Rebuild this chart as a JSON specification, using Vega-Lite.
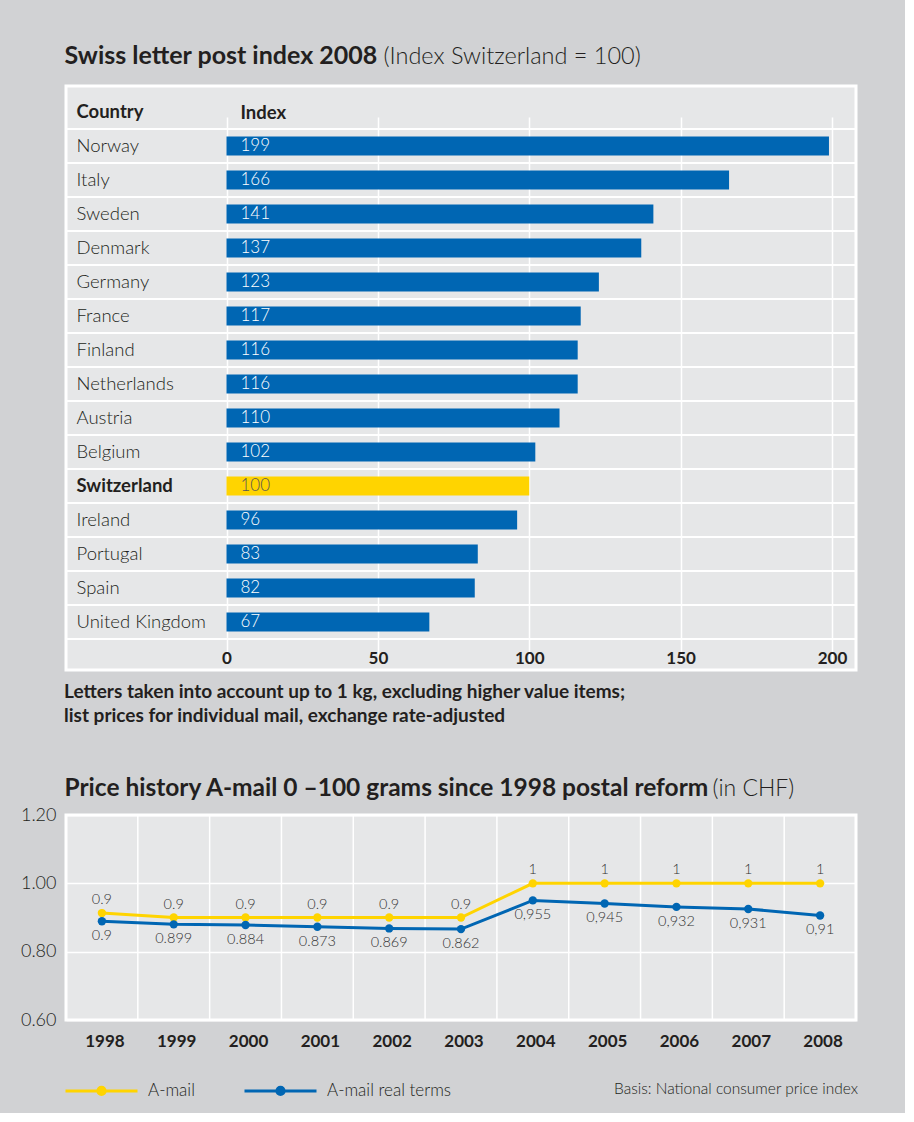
{
  "$schema": "https://vega.github.io/schema/vega-lite/v6.json",
  "background": "#d1d2d4",
  "padding": {"left": 18, "top": 41, "right": 46, "bottom": 12},
  "spacing": 45,
  "config": {
    "font": "Lato",
    "view": {"fill": "#e6e7e8", "stroke": "#ffffff", "strokeWidth": 3},
    "axis": {"domain": false, "ticks": false}
  },
  "vconcat": [
    {
      "width": 790,
      "height": 584,
      "title": {
        "text": ["Letters taken into account up to 1 kg, excluding higher value items;", "list prices for individual mail, exchange rate-adjusted"],
        "orient": "bottom", "anchor": "start", "frame": "group",
        "font": "Lato", "fontSize": 19, "fontWeight": "bold", "color": "#231f20",
        "lineHeight": 24, "offset": 13, "dx": -2
      },
      "data": {"values": [
        {"Country": "Norway", "Index": 199},
        {"Country": "Italy", "Index": 166},
        {"Country": "Sweden", "Index": 141},
        {"Country": "Denmark", "Index": 137},
        {"Country": "Germany", "Index": 123},
        {"Country": "France", "Index": 117},
        {"Country": "Finland", "Index": 116},
        {"Country": "Netherlands", "Index": 116},
        {"Country": "Austria", "Index": 110},
        {"Country": "Belgium", "Index": 102},
        {"Country": "Switzerland", "Index": 100},
        {"Country": "Ireland", "Index": 96},
        {"Country": "Portugal", "Index": 83},
        {"Country": "Spain", "Index": 82},
        {"Country": "United Kingdom", "Index": 67}
      ]},
      "layer": [
        {
          "mark": {"type": "bar", "size": 19},
          "encoding": {
            "x": {
              "field": "Index", "type": "quantitative",
              "scale": {"domain": [0, 200], "range": [160.5, 766], "nice": false},
              "axis": {
                "values": [0, 50, 100, 150, 200],
                "grid": true, "gridColor": "#ffffff", "gridWidth": 1.5,
                "labelPadding": -12, "labelBaseline": "middle",
                "labelFont": "Lato", "labelFontSize": 17, "labelFontWeight": "bold", "labelColor": "#231f20",
                "labelFlush": false, "labelOverlap": false,
                "title": "Swiss letter post index 2008",
                "titleX": -2, "titleY": -607, "titleAlign": "left", "titleAnchor": null, "titleBaseline": "alphabetic",
                "titleFont": "Lato", "titleFontSize": 25, "titleFontWeight": "bold", "titleColor": "#231f20"
              }
            },
            "y": {
              "field": "Country", "type": "nominal",
              "scale": {"domain": ["Country", "Norway", "Italy", "Sweden", "Denmark", "Germany", "France", "Finland", "Netherlands", "Austria", "Belgium", "Switzerland", "Ireland", "Portugal", "Spain", "United Kingdom"], "range": [9, 553], "paddingInner": 0, "paddingOuter": 0},
              "axis": {
                "grid": false,
                "labelAlign": "left", "labelPadding": -10, "labelBaseline": "middle",
                "labelFont": "Lato", "labelFontSize": 18.5, "labelColor": "#231f20", "labelLimit": 300,
                "labelFontWeight": {"condition": {"test": "datum.value === 'Country' || datum.value === 'Switzerland'", "value": "bold"}, "value": 300},
                "title": "(Index Switzerland = 100)",
                "titleAngle": 0, "titleX": 317, "titleY": -23, "titleAlign": "left", "titleAnchor": null, "titleBaseline": "alphabetic",
                "titleFont": "Lato", "titleFontSize": 23.5, "titleFontWeight": 300, "titleColor": "#231f20"
              }
            },
            "color": {"condition": {"test": "datum.Country === 'Switzerland'", "value": "#ffd400"}, "value": "#0066b3"}
          }
        },
        {
          "mark": {"type": "rule", "color": "#ffffff", "strokeWidth": 2},
          "encoding": {"y": {"field": "Country", "type": "nominal", "bandPosition": 0}}
        },
        {
          "mark": {"type": "rule", "color": "#ffffff", "strokeWidth": 2},
          "encoding": {"y": {"field": "Country", "type": "nominal", "bandPosition": 1}}
        },
        {
          "mark": {"type": "text", "align": "left", "baseline": "middle", "dx": 14, "font": "Lato", "fontSize": 17, "fontWeight": 300},
          "encoding": {
            "x": {"datum": 0, "type": "quantitative"},
            "y": {"field": "Country", "type": "nominal"},
            "text": {"field": "Index"},
            "color": {"condition": {"test": "datum.Country === 'Switzerland'", "value": "#555555"}, "value": "#ffffff"}
          }
        },
        {
          "data": {"values": [{"Header": "Index"}]},
          "mark": {"type": "text", "align": "left", "baseline": "middle", "dx": 14, "dy": 1, "font": "Lato", "fontSize": 18.5, "fontWeight": "bold", "color": "#231f20"},
          "encoding": {
            "x": {"datum": 0, "type": "quantitative"},
            "y": {"datum": "Country", "type": "nominal"},
            "text": {"field": "Header"}
          }
        }
      ]
    },
    {
      "width": 790,
      "height": 205,
      "data": {"values": [
        {"Year": "1998", "Series": "A-mail", "Price": 0.913, "Label": "0.9"},
        {"Year": "1999", "Series": "A-mail", "Price": 0.9, "Label": "0.9"},
        {"Year": "2000", "Series": "A-mail", "Price": 0.9, "Label": "0.9"},
        {"Year": "2001", "Series": "A-mail", "Price": 0.9, "Label": "0.9"},
        {"Year": "2002", "Series": "A-mail", "Price": 0.9, "Label": "0.9"},
        {"Year": "2003", "Series": "A-mail", "Price": 0.9, "Label": "0.9"},
        {"Year": "2004", "Series": "A-mail", "Price": 1.0, "Label": "1"},
        {"Year": "2005", "Series": "A-mail", "Price": 1.0, "Label": "1"},
        {"Year": "2006", "Series": "A-mail", "Price": 1.0, "Label": "1"},
        {"Year": "2007", "Series": "A-mail", "Price": 1.0, "Label": "1"},
        {"Year": "2008", "Series": "A-mail", "Price": 1.0, "Label": "1"},
        {"Year": "1998", "Series": "A-mail real terms", "Price": 0.889, "Label": "0.9"},
        {"Year": "1999", "Series": "A-mail real terms", "Price": 0.880, "Label": "0.899"},
        {"Year": "2000", "Series": "A-mail real terms", "Price": 0.878, "Label": "0.884"},
        {"Year": "2001", "Series": "A-mail real terms", "Price": 0.873, "Label": "0.873"},
        {"Year": "2002", "Series": "A-mail real terms", "Price": 0.868, "Label": "0.869"},
        {"Year": "2003", "Series": "A-mail real terms", "Price": 0.866, "Label": "0.862"},
        {"Year": "2004", "Series": "A-mail real terms", "Price": 0.950, "Label": "0,955"},
        {"Year": "2005", "Series": "A-mail real terms", "Price": 0.941, "Label": "0,945"},
        {"Year": "2006", "Series": "A-mail real terms", "Price": 0.931, "Label": "0,932"},
        {"Year": "2007", "Series": "A-mail real terms", "Price": 0.925, "Label": "0,931"},
        {"Year": "2008", "Series": "A-mail real terms", "Price": 0.906, "Label": "0,91"}
      ]},
      "layer": [
        {
          "transform": [{"filter": "datum.Series === 'A-mail'"}],
          "mark": {"type": "rule", "color": "#ffffff", "strokeWidth": 1.5},
          "encoding": {"x": {"field": "Year", "type": "ordinal", "bandPosition": 0}}
        },
        {
          "mark": {"type": "line", "strokeWidth": 3, "point": {"filled": true, "size": 70}},
          "encoding": {
            "x": {
              "field": "Year", "type": "ordinal",
              "scale": {"type": "band", "paddingInner": 0, "paddingOuter": 0},
              "axis": {
                "grid": false, "labelAngle": 0, "labelPadding": 21, "labelOffset": 3,
                "bandPosition": 0.5, "labelAlign": "center", "labelBaseline": "middle",
                "labelFont": "Lato", "labelFontSize": 17, "labelFontWeight": "bold", "labelColor": "#231f20",
                "title": "Price history A-mail 0 –100 grams since 1998 postal reform",
                "titleX": -2, "titleY": -225, "titleAlign": "left", "titleAnchor": null, "titleBaseline": "alphabetic",
                "titleFont": "Lato", "titleFontSize": 24.5, "titleFontWeight": "bold", "titleColor": "#231f20"
              }
            },
            "y": {
              "field": "Price", "type": "quantitative",
              "scale": {"domain": [0.6, 1.2], "nice": false, "zero": false},
              "axis": {
                "values": [0.6, 0.7, 0.8, 0.9, 1.0, 1.1, 1.2],
                "labelExpr": "round(datum.value*10) % 2 === 0 ? format(datum.value, '.2f') : ''",
                "grid": true, "gridColor": "#ffffff", "gridWidth": 1.5,
                "labelPadding": 10, "labelOverlap": false, "labelFlush": false,
                "labelFont": "Lato", "labelFontSize": 18, "labelFontWeight": 300, "labelColor": "#231f20",
                "title": "(in CHF)",
                "titleAngle": 0, "titleX": 646, "titleY": -20, "titleAlign": "left", "titleAnchor": null, "titleBaseline": "alphabetic",
                "titleFont": "Lato", "titleFontSize": 23, "titleFontWeight": 300, "titleColor": "#231f20"
              }
            },
            "color": {
              "field": "Series", "type": "nominal",
              "scale": {"domain": ["A-mail", "A-mail real terms"], "range": ["#ffd400", "#0066b3"]},
              "legend": {
                "orient": "none", "legendX": 22, "legendY": 991, "direction": "horizontal", "padding": 0,
                "symbolType": "M-3,0L3,0M0.3,0A0.3,0.3,0,1,1,-0.3,0A0.3,0.3,0,1,1,0.3,0Z",
                "symbolSize": 576, "symbolStrokeWidth": 3,
                "labelOffset": 33, "columnPadding": 43,
                "labelFont": "Lato", "labelFontSize": 17, "labelFontWeight": 300, "labelColor": "#231f20",
                "title": "Basis: National consumer price index", "titleLimit": 500,
                "titleOrient": "right", "titlePadding": 163, "titleBaseline": "middle",
                "titleFont": "Lato", "titleFontSize": 15.5, "titleFontWeight": 300, "titleColor": "#231f20",
                "encode": {"symbols": {"update": {"fill": {"scale": "color", "field": "value"}}}}
              }
            }
          }
        },
        {
          "transform": [{"filter": "datum.Series === 'A-mail'"}],
          "mark": {"type": "text", "dy": -13, "baseline": "middle", "font": "Lato", "fontSize": 14.5, "fontWeight": 300, "color": "#333333"},
          "encoding": {
            "x": {"field": "Year", "type": "ordinal"},
            "y": {"field": "Price", "type": "quantitative"},
            "text": {"field": "Label"}
          }
        },
        {
          "transform": [{"filter": "datum.Series === 'A-mail real terms'"}],
          "mark": {"type": "text", "dy": 15, "baseline": "middle", "font": "Lato", "fontSize": 14.5, "fontWeight": 300, "color": "#333333"},
          "encoding": {
            "x": {"field": "Year", "type": "ordinal"},
            "y": {"field": "Price", "type": "quantitative"},
            "text": {"field": "Label"}
          }
        }
      ]
    }
  ]
}
